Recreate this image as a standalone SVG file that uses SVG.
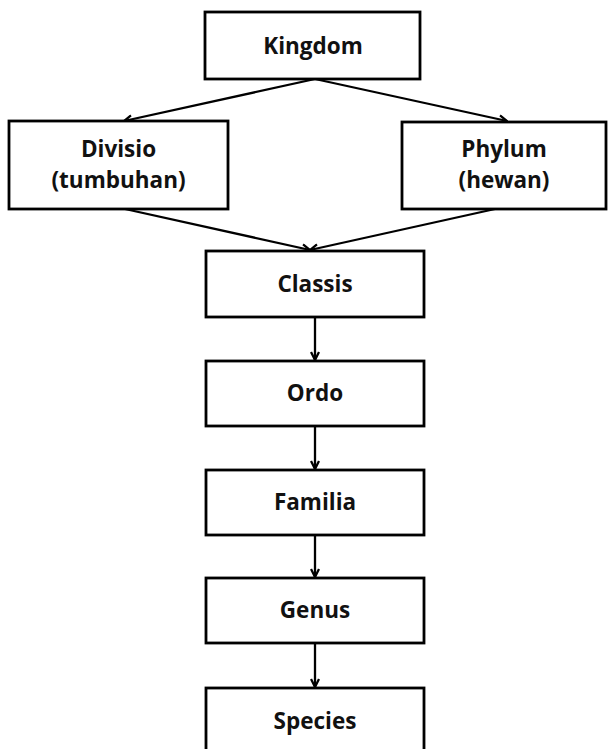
<svg xmlns="http://www.w3.org/2000/svg" width="615" height="749" viewBox="0 0 615 749">
  <style>
    .box { fill: #ffffff; stroke: #000000; stroke-width: 2.8; }
    .label { font-family: "Open Sans", "Liberation Sans", sans-serif; font-weight: bold; font-size: 22.5px; fill: #111111; text-anchor: middle; }
    .link { fill: none; stroke: #000000; stroke-width: 2.3; }
  </style>
  <defs>
    <marker id="arrow" viewBox="0 0 10 10" refX="9" refY="5" markerWidth="10" markerHeight="10" markerUnits="userSpaceOnUse" orient="auto">
      <path d="M1,1 L9,5 L1,9" fill="none" stroke="#000000" stroke-width="2.3"/>
    </marker>
  </defs>
  <rect width="615" height="749" fill="#ffffff"/>

  <g id="connectors">
    <line class="link" x1="315" y1="79" x2="124" y2="121" marker-end="url(#arrow)"/>
    <line class="link" x1="315" y1="79" x2="507" y2="121" marker-end="url(#arrow)"/>
    <line class="link" x1="125" y1="209" x2="310" y2="250" marker-end="url(#arrow)"/>
    <line class="link" x1="495" y1="209" x2="310" y2="250" marker-end="url(#arrow)"/>
    <line class="link" x1="315" y1="317" x2="315" y2="360" marker-end="url(#arrow)"/>
    <line class="link" x1="315" y1="426" x2="315" y2="469" marker-end="url(#arrow)"/>
    <line class="link" x1="315" y1="535" x2="315" y2="577" marker-end="url(#arrow)"/>
    <line class="link" x1="315" y1="643" x2="315" y2="687" marker-end="url(#arrow)"/>
  </g>

  <g id="kingdom">
    <rect class="box" x="205" y="12" width="215" height="67"/>
    <text class="label" x="313" y="54">Kingdom</text>
  </g>
  <g id="divisio">
    <rect class="box" x="9" y="121" width="219" height="88"/>
    <text class="label" x="118.5" y="157">Divisio</text>
    <text class="label" x="118.5" y="188">(tumbuhan)</text>
  </g>
  <g id="phylum">
    <rect class="box" x="402" y="122" width="204" height="87"/>
    <text class="label" x="504" y="157">Phylum</text>
    <text class="label" x="504" y="188">(hewan)</text>
  </g>
  <g id="classis">
    <rect class="box" x="206" y="251" width="218" height="66"/>
    <text class="label" x="315" y="292">Classis</text>
  </g>
  <g id="ordo">
    <rect class="box" x="206" y="361" width="218" height="65"/>
    <text class="label" x="315" y="401">Ordo</text>
  </g>
  <g id="familia">
    <rect class="box" x="206" y="470" width="218" height="65"/>
    <text class="label" x="315" y="510">Familia</text>
  </g>
  <g id="genus">
    <rect class="box" x="206" y="578" width="218" height="65"/>
    <text class="label" x="315" y="618">Genus</text>
  </g>
  <g id="species">
    <rect class="box" x="206" y="688" width="218" height="70"/>
    <text class="label" x="315" y="729">Species</text>
  </g>
</svg>
